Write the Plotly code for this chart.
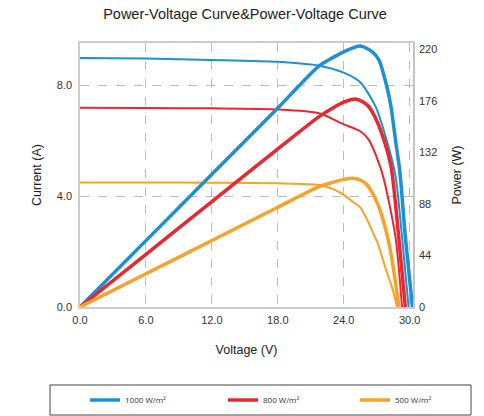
import plotly.graph_objects as go

# ---------------- data ----------------
labels = ["1000 W/m²", "800 W/m²", "500 W/m²"]
colors = ["#1e8fd5", "#e8282e", "#f8a12b"]

# I-V curves (Voltage V, Current A)
iv_v_1000 = [0, 6, 12, 18, 21.75, 24, 25.5, 26.9, 27.9, 28.7, 29.3, 29.9]
iv_i_1000 = [9.00, 8.98, 8.93, 8.86, 8.72, 8.47, 8.12, 7.24, 6.03, 4.75, 2.54, 0]

iv_v_800 = [0, 6, 12, 18, 21.75, 24, 25.5, 26.3, 27.5, 28.7, 29.3]
iv_i_800 = [7.20, 7.19, 7.18, 7.14, 7.00, 6.60, 6.35, 6.03, 4.83, 2.54, 0]

iv_v_500 = [0, 6, 12, 18, 21.75, 23.1, 24, 24.9, 25.5, 26.15, 26.75, 27.1, 27.8, 28.4, 28.85]
iv_i_500 = [4.50, 4.50, 4.49, 4.47, 4.41, 4.25, 4.05, 3.78, 3.60, 3.14, 2.60, 2.30, 1.40, 0.70, 0]

# P-V curves (Voltage V, Power W)
pv_v_1000 = [0, 6, 12, 18, 21.75, 23, 24, 25.5, 26.6, 27.2, 27.9, 28.3, 28.7, 29.1, 29.6, 30.25]
pv_p_1000 = [0, 56.7, 113.4, 170, 206, 213, 218, 223, 218, 211, 189, 171, 143, 116, 60, 0]

pv_v_800 = [0, 6, 12, 18, 21.75, 23, 24, 25.2, 26.2, 26.8, 27.5, 28.3, 29.0, 29.6]
pv_p_800 = [0, 45, 90, 135, 162.6, 170, 175, 177.5, 172, 163, 147, 120, 60, 0]

pv_v_500 = [0, 6, 12, 18, 21.75, 23, 24, 24.8, 25.5, 26.15, 26.9, 27.4, 28.1, 28.6, 29.0]
pv_p_500 = [0, 28.4, 56.8, 85.2, 102.8, 106.5, 109, 110, 108.5, 104, 92, 80, 55, 28, 0]

x_ticks = [0, 6, 12, 18, 24, 30]
i_ticks = [0, 4, 8]
p_ticks = [0, 44, 88, 132, 176, 220]

iv_sets = [(iv_v_1000, iv_i_1000), (iv_v_800, iv_i_800), (iv_v_500, iv_i_500)]
pv_sets = [(pv_v_1000, pv_p_1000), (pv_v_800, pv_p_800), (pv_v_500, pv_p_500)]

W, H = 484, 416
PL, PR, PT, PB = 80, 413, 43, 307   # plot area in page pixels
PW, PH = PR - PL, PB - PT
legend_ids = ["legend", "legend2", "legend3"]
legend_left_px = [85, 223, 355]

# ---------------- figure ----------------
fig = go.Figure()
for k in range(3):
    v, i = iv_sets[k]
    fig.add_trace(go.Scatter(
        x=v, y=i, mode="lines", name=labels[k], legendgroup=labels[k],
        showlegend=False, yaxis="y",
        line=dict(color=colors[k], width=2, shape="spline", smoothing=0.7),
    ))
for k in range(3):
    v, p = pv_sets[k]
    fig.add_trace(go.Scatter(
        x=v, y=p, mode="lines", name=labels[k], legendgroup=labels[k],
        showlegend=True, yaxis="y2", legend=legend_ids[k],
        line=dict(color=colors[k], width=3.5, shape="spline", smoothing=0.7),
    ))

tick_font = dict(family="Liberation Sans, Arial, sans-serif", size=11, color="#333333")
title_font = dict(family="Liberation Sans, Arial, sans-serif", size=12.5, color="#222222")
legend_font = dict(family="Open Sans, sans-serif", size=8, color="#333333")

legends = {}
for k in range(3):
    legends[legend_ids[k]] = dict(
        orientation="h", xref="container", yref="container",
        x=legend_left_px[k] / W, xanchor="left",
        y=1 - 400 / H, yanchor="middle",
        font=legend_font, bgcolor="rgba(0,0,0,0)", borderwidth=0,
    )

fig.update_layout(
    width=W, height=H,
    margin=dict(l=PL, r=W - PR, t=PT, b=H - PB),
    paper_bgcolor="white", plot_bgcolor="white",
    title=dict(text="Power-Voltage Curve&Power-Voltage Curve",
               x=245 / W, xanchor="center", xref="container",
               y=1 - 14 / H, yanchor="middle", yref="container",
               font=dict(family="Liberation Sans, Arial, sans-serif", size=14.5, color="#222222")),
    xaxis=dict(
        range=[0, 30.3], tickvals=x_ticks, tickformat=".1f",
        showgrid=True, gridcolor="#bdbdbd", griddash="dash", gridwidth=1,
        zeroline=False, showline=True, linecolor="#cccccc", linewidth=1.5, mirror=True,
        ticks="", tickfont=tick_font, ticklabelstandoff=2,
        title=dict(text="Voltage (V)", font=title_font, standoff=20),
    ),
    yaxis=dict(
        range=[0, 9.54], tickvals=i_ticks, tickformat=".1f",
        showgrid=True, gridcolor="#bdbdbd", griddash="dash", gridwidth=1,
        zeroline=False, showline=True, linecolor="#cccccc", linewidth=1.5,
        ticks="", tickfont=tick_font, ticklabelstandoff=4,
        title=dict(text="Current (A)", font=title_font, standoff=12),
    ),
    yaxis2=dict(
        range=[0, 225.5], tickvals=p_ticks, overlaying="y", side="right",
        showgrid=False, zeroline=False, showline=True, linecolor="#c4c4c4", linewidth=1.5,
        ticks="", tickfont=tick_font, ticklabelstandoff=2,
        title=dict(text="Power (W)", font=title_font, standoff=16),
    ),
    shapes=[dict(type="rect", xref="paper", yref="paper",
                 x0=(50 - PL) / PW, x1=(471 - PL) / PW,
                 y0=-(385 - PB) / PH, y1=-(415 - PB) / PH,
                 line=dict(color="#444444", width=1), fillcolor="rgba(0,0,0,0)",
                 layer="above")],
    **legends,
)

fig.write_html("out.html", config={"displayModeBar": False},
               post_script="document.body.style.margin='0';document.body.style.overflow='hidden';")
